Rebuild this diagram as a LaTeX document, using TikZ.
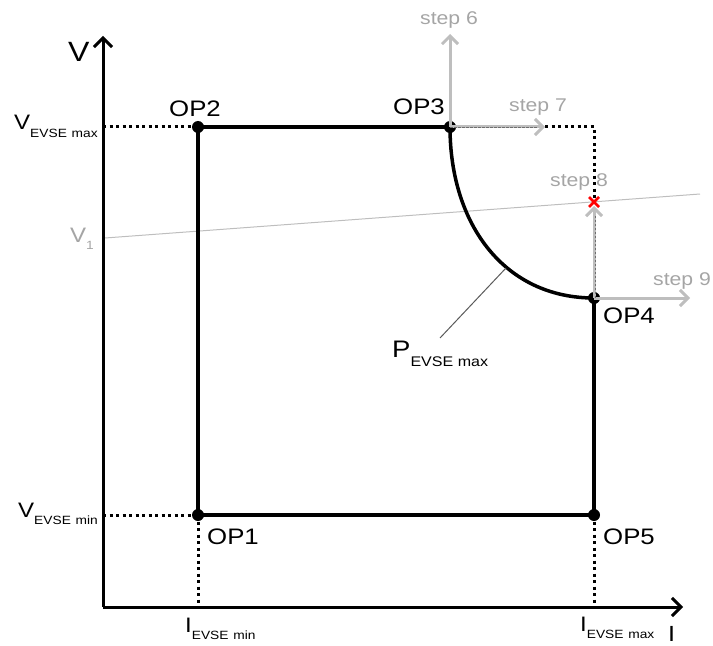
\documentclass[tikz,border=0pt]{standalone}
\usepackage{fontspec}
\setmainfont[FakeStretch=1.15]{Liberation Sans}
\usetikzlibrary{arrows.meta,calc}
\definecolor{stepgray}{RGB}{190,190,190}
\definecolor{lblgray}{RGB}{165,165,165}
\definecolor{ptrgray}{RGB}{90,90,90}
\definecolor{dashgray}{RGB}{110,110,110}
\newcommand{\subtxt}[2][12]{\raisebox{-0.38em}{\fontsize{#1}{#1}\selectfont #2}}
\begin{document}
\begin{tikzpicture}[x=1bp,y=-1bp,
  thickline/.style={line width=3.5bp, black},
  axisline/.style={line width=3bp, black, -{Straight Barb[length=9bp,width=18bp,line width=3bp]}},
  dotline/.style={line width=3bp, black, dash pattern=on 3bp off 3.5bp},
  opdot/.style={circle, fill=black, inner sep=0pt, minimum size=12bp},
  steparrow/.style={line width=3bp, stepgray, -{Straight Barb[length=8bp,width=16bp,line width=3bp]}},
  thindash/.style={dashgray, line width=0.9bp, dash pattern=on 2.5bp off 1.5bp},
  oplabel/.style={anchor=base west, inner sep=0pt, font=\fontsize{22.5}{22.5}\selectfont},
  axlabel/.style={anchor=base west, inner sep=0pt, font=\fontsize{21}{21}\selectfont},
  steplabel/.style={anchor=base west, inner sep=0pt, text=lblgray, font=\fontsize{18.5}{18.5}\selectfont}]
\useasboundingbox (0,0) rectangle (713,646);

% reference line V1
\coordinate (origin) at (103,607);
\coordinate (ytop) at (103,36);
\coordinate (xend) at (683,607);
\coordinate (v1a) at (105,238);
\coordinate (v1b) at (700,194);
\draw[stepgray, line width=1bp] (v1a) -- (v1b);

% operating points
\node[opdot] (op1) at (198,515) {};
\node[opdot] (op2) at (198,127) {};
\node[opdot] (op3) at (450,127) {};
\node[opdot] (op4) at (594,298) {};
\node[opdot] (op5) at (594,515) {};

\coordinate (yvmax) at (103,127);
\coordinate (yvmin) at (103,515);
\coordinate (ximin) at (198,607);
\coordinate (ximax) at (594,607);
\coordinate (s7end) at (545,127);
\coordinate (corner) at (594,127);
\coordinate (cross) at (594,202);

% dotted guides
\draw[dotline] (yvmax) -- (op2.center);
\draw[dotline] (yvmin) -- (op1.center);
\draw[dotline] (op1.center) -- (ximin);
\draw[dotline] (op5.center) -- (ximax);
\draw[dotline] (s7end) -- (corner) -- (cross);

% axes
\draw[axisline] (origin) -- (ytop);
\draw[axisline] (origin) -- (xend);

% boundary
\draw[thickline] (op1.center) -- (op2.center) -- (op3.center);
\draw[thickline] (op1.center) -- (op5.center) -- (op4.center);
\draw[thickline] (op3.center) .. controls (450,225) and (505,298) .. (op4.center);

% step arrows
\coordinate (s6end) at (450,34);
\coordinate (s8end) at (594,206);
\coordinate (s9end) at (690,298);
\coordinate (s7dash) at (538,127);
\coordinate (s8dash) at (595,214);
\draw[steparrow] (op3.center) -- (s6end);
\draw[steparrow] (op3.center) -- (s7end);
\draw[steparrow] (op4.center) -- (s8end);
\draw[steparrow] (op4.center) -- (s9end);
\draw[thindash] (op3.center) -- (s7dash);
\draw[thindash] ($(op4.center)+(1,0)$) -- (s8dash);

% red cross
\draw[red, line width=2.5bp] ($(cross)+(-5,-5)$) -- ($(cross)+(5,5)$);
\draw[red, line width=2.5bp] ($(cross)+(-5,5)$) -- ($(cross)+(5,-5)$);

% pointer
\coordinate (ptra) at (506,268);
\coordinate (ptrb) at (440,338);
\draw[ptrgray, line width=1bp] (ptra) -- (ptrb);

% labels
\node[axlabel, font=\fontsize{28}{28}\selectfont] (lv) at (68,62) {V};
\node[axlabel, font=\fontsize{22}{22}\selectfont, text depth=0pt] (li) at (668,641) {I};
\node[axlabel] (lvmax) at (14,130) {V\subtxt{EVSE\hspace{0.4em}max}};
\node[axlabel] (lvmin) at (18,517) {V\subtxt{EVSE\hspace{0.4em}min}};
\node[axlabel, text=lblgray] (lv1) at (70,242) {V\subtxt{1}};
\node[axlabel] (limin) at (185,632) {I\subtxt{EVSE\hspace{0.4em}min}};
\node[axlabel] (limax) at (580,631) {I\subtxt{EVSE\hspace{0.4em}max}};
\node[axlabel, font=\fontsize{24}{24}\selectfont] (lp) at (392,357) {P\subtxt[14]{EVSE max}};

\node[oplabel] (lop1) at (207,544) {OP1};
\node[oplabel] (lop2) at (169,117) {OP2};
\node[oplabel] (lop3) at (393,115) {OP3};
\node[oplabel] (lop4) at (603,323) {OP4};
\node[oplabel] (lop5) at (603,544) {OP5};

\node[steplabel] (ls6) at (420,25) {step 6};
\node[steplabel] (ls7) at (509,112) {step 7};
\node[steplabel] (ls8) at (550,187) {step 8};
\node[steplabel] (ls9) at (653,285) {step 9};
\end{tikzpicture}
\end{document}
